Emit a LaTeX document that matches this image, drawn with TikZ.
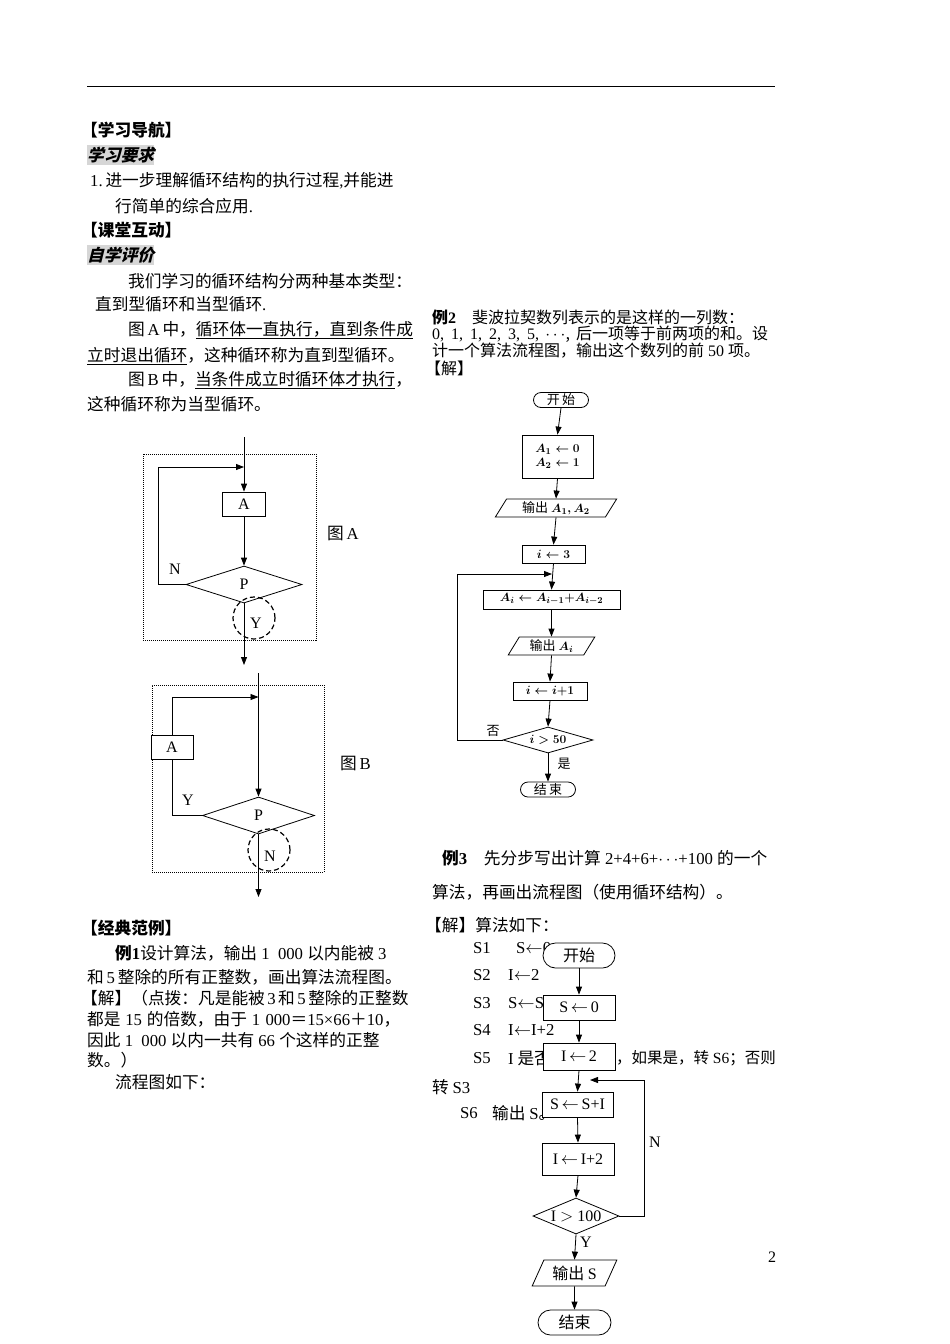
\documentclass[tikz,border=0pt]{standalone}
\usepackage{fontspec}
\setmainfont{Noto Sans CJK SC}
\newfontfamily\cjksl{Noto Sans CJK SC}[FakeSlant=0.25]
\newfontfamily\lat{Liberation Serif}
\usetikzlibrary{arrows.meta,shapes.geometric}
\newcommand\fsz[1]{\fontsize{#1}{#1}\selectfont}
\newcommand\jl[2]{\makebox[#1][s]{#2}}
\tikzset{
  txt/.style={anchor=west, inner sep=0pt, font=\fsz{16.7}},
  shd/.style={anchor=west, inner xsep=0pt, inner ysep=1.5pt, fill=black!16, font=\fsz{16.7}},
  fbox/.style={draw, line width=0.8pt, fill=white, inner sep=0pt, align=center},
  dia/.style={draw, diamond, aspect=3, line width=0.8pt, fill=white, inner sep=0pt},
  para/.style={draw, trapezium, trapezium left angle=60, trapezium right angle=120, trapezium stretches=true, line width=0.8pt, fill=white, inner sep=0pt},
  arr/.style={-{Triangle[length=8pt,width=6pt]}, line width=0.8pt},
  dcirc/.style={circle, draw, dash pattern=on 5pt off 3pt, line width=1.2pt, minimum size=42pt, inner sep=0pt},
  frame/.style={draw, dash pattern=on 1pt off 1pt, line width=1pt, inner sep=0pt},
  lab/.style={inner sep=0pt, font=\lat\fsz{16}},
  slab/.style={inner sep=0pt, font=\fsz{13}},
  mth/.style={font=\fsz{13}\boldmath}
}
\begin{document}
\begin{tikzpicture}[x=1pt,y=-1pt]
\fill[white] (0,0) rectangle (950,1344);
\useasboundingbox (0,0) rectangle (950,1344);
% header rule
\coordinate (r1) at (87,86);
\coordinate (r2) at (775,86);
\draw[line width=0.9pt] (r1) -- (r2);

% ---------- left column text ----------
\node[txt] (h1) at (81,130) {\bfseries 【学习导航】};
\node[shd] (h2) at (87,155) {\cjksl\bfseries 学习要求};
\node[txt] (l1) at (90,181) {{\lat 1.\,}进一步理解循环结构的执行过程{\lat ,}并能进};
\node[txt] (l2) at (115,206) {行简单的综合应用{\lat .}};
\node[txt] (h3) at (81,230) {\bfseries 【课堂互动】};
\node[shd] (h4) at (87,255) {\cjksl\bfseries 自学评价};
\node[txt] (p1) at (128,281) {我们学习的循环结构分两种基本类型：};
\node[txt] (p2) at (95,304) {直到型循环和当型循环{\lat .}};
\node[txt] (p3) at (128,330) {图{\lat\,A\,}中，\underline{循环体一直执行，直到条件成}};
\node[txt] (p4) at (87,356) {\underline{立时退出循环}，这种循环称为直到型循环。};
\node[txt] (p5) at (128,380) {图{\lat\,B\,}中，\underline{当条件成立时循环体才执行}，};
\node[txt] (p6) at (87,404) {这种循环称为当型循环。};

% ---------- Figure A ----------
\node[frame, minimum width=173pt, minimum height=186pt] (fa) at (229.5,547) {};
\coordinate (at) at (244,437);
\node[fbox, minimum width=43pt, minimum height=24pt, font=\lat\fsz{16}] (ba) at (244,504) {A};
\node[dia, minimum width=116pt, minimum height=37pt, font=\lat\fsz{16}] (pa) at (244,584.5) {P};
\draw[arr] (at) -- (ba.north);
\draw[arr] (ba.south) -- (pa.north);
\coordinate (la1) at (158,584.5);
\coordinate (la2) at (158,467);
\coordinate (la3) at (244,467);
\draw[arr] (pa.west) -- (la1) -- (la2) -- (la3);
\coordinate (ao) at (244,665);
\draw[arr] (pa.south) -- (ao);
\node[dcirc] (ya) at (254,618) {};
\node[lab] (yal) at (256,623) {Y};
\node[lab] (na) at (175,569) {N};
\node[txt] (figa) at (327,534) {图{\lat\,A}};

% ---------- Figure B ----------
\node[frame, minimum width=172pt, minimum height=187pt] (fb) at (238,778.5) {};
\coordinate (bt) at (258.5,673);
\node[dia, minimum width=112pt, minimum height=37pt, font=\lat\fsz{16}] (pb) at (258.5,815.5) {P};
\draw[arr] (bt) -- (pb.north);
\node[fbox, minimum width=42pt, minimum height=24pt, font=\lat\fsz{16}] (bb) at (172,747) {A};
\coordinate (lb1) at (172,697);
\coordinate (lb2) at (258.5,697);
\coordinate (lb3) at (172,815.5);
\draw[line width=0.8pt] (pb.west) -- (lb3) -- (bb.south);
\draw[arr] (bb.north) -- (lb1) -- (lb2);
\coordinate (bo) at (258.5,897);
\draw[arr] (pb.south) -- (bo);
\node[dcirc] (nb) at (269,850) {};
\node[lab] (nbl) at (270,856) {N};
\node[lab] (yb) at (188,800) {Y};
\node[txt] (figb) at (340,764) {图{\lat\,B}};

% ---------- Example 1 text ----------
\node[txt] (h5) at (81,928) {\bfseries 【经典范例】};
\node[txt] (e1) at (115,953) {{\bfseries 例{\lat 1}}设计算法，输出{\lat\ 1\ \ 000\ }以内能被{\lat\ 3}};
\node[txt] (e2) at (87,977) {和{\lat\,5\,}整除的所有正整数，画出算法流程图。};
\node[txt] (e3) at (81,998) {\jl{322pt}{【解】（点拨：凡是能被 {\lat 3} 和 {\lat 5} 整除的正整数}};
\node[txt] (e4) at (87,1019) {\jl{313pt}{都是 {\lat 15} 的倍数，由于 {\lat 1 000}＝{\lat 15×66}＋{\lat 10}，}};
\node[txt] (e5) at (87,1040) {因此{\lat\ 1\ \ 000\ }以内一共有{\lat\ 66\ }个这样的正整};
\node[txt] (e6) at (87,1060) {数。）};
\node[txt] (e7) at (115,1082) {流程图如下：};

% ---------- Example 2 text ----------
\node[txt, font=\fsz{16}] (x1) at (432,317) {\jl{336pt}{{\bfseries 例{\lat 2}}\quad 斐波拉契数列表示的是这样的一列数：}};
\node[txt, font=\fsz{16}] (x2) at (432,334) {\jl{336pt}{{\lat 0, 1, 1, 2, 3, 5,} $\cdots$, 后一项等于前两项的和。设}};
\node[txt, font=\fsz{16}] (x3) at (432,351) {\jl{328pt}{计一个算法流程图，输出这个数列的前 {\lat 50} 项。}};
\node[txt, font=\fsz{16}] (x4) at (425,368) {【解】};

% ---------- Example 2 flowchart ----------
\node[fbox, rounded corners=7.5pt, minimum width=55pt, minimum height=15pt, font=\fsz{13}] (s2) at (561,400) {开\,始};
\node[fbox, mth, minimum width=71pt, minimum height=43pt] (b2a) at (557.5,456.5) {$A_1\leftarrow 0$\\[1pt]$A_2\leftarrow 1$};
\node[para, mth, minimum width=122pt, minimum height=18pt] (o2a) at (556,508) {输出 $A_1,A_2$};
\node[fbox, mth, minimum width=63pt, minimum height=18pt] (b2b) at (553.5,554) {$i\leftarrow 3$};
\node[fbox, mth, minimum width=137pt, minimum height=19pt] (b2c) at (551.5,599.5) {$A_i\leftarrow A_{i-1}{+}A_{i-2}$};
\node[para, mth, minimum width=87pt, minimum height=18pt] (o2b) at (551.5,646) {输出 $A_i$};
\node[fbox, mth, minimum width=74pt, minimum height=18pt] (b2d) at (550,691) {$i\leftarrow i{+}1$};
\node[dia, mth, minimum width=90pt, minimum height=26pt] (d2) at (548,740) {$i>50$};
\node[fbox, rounded corners=7.5pt, minimum width=55pt, minimum height=15pt, font=\fsz{13}] (e2e) at (548,789.5) {结\,束};
\draw[arr] (s2.south) -- (b2a.north);
\draw[arr] (b2a.south) -- (o2a.north);
\draw[arr] (o2a.south) -- (b2b.north);
\draw[arr] (b2b.south) -- (b2c.north);
\draw[arr] (b2c.south) -- (o2b.north);
\draw[arr] (o2b.south) -- (b2d.north);
\draw[arr] (b2d.south) -- (d2.north);
\draw[arr] (d2.south) -- (e2e.north);
\coordinate (l2a) at (457,740);
\coordinate (l2b) at (457,574);
\coordinate (l2c) at (552,574);
\draw[arr] (d2.west) -- (l2a) -- (l2b) -- (l2c);
\node[slab] (no2) at (493,731) {否};
\node[slab] (yes2) at (564,764) {是};

% ---------- Example 3 text ----------
\node[txt] (y1) at (442,858) {{\bfseries 例{\lat 3}}\quad 先分步写出计算{\lat\ 2+4+6+}$\cdots${\lat +100 }的一个};
\node[txt] (y2) at (432,892) {算法，再画出流程图（使用循环结构）。};
\node[txt] (y3) at (425,925) {【解】算法如下：};
\node[txt] (st1a) at (473,948) {\lat S1};
\node[txt] (st1b) at (516,948) {\lat S$\leftarrow$0};
\node[txt] (st2a) at (473,975) {\lat S2};
\node[txt] (st2b) at (508,975) {\lat I$\leftarrow$2};
\node[txt] (st3a) at (473,1003) {\lat S3};
\node[txt] (st3b) at (508,1003) {\lat S$\leftarrow$S+I};
\node[txt] (st4a) at (473,1030) {\lat S4};
\node[txt] (st4b) at (508,1030) {\lat I$\leftarrow$I+2};
\node[txt] (st5a) at (473,1058) {\lat S5};
\node[txt] (st5b) at (508,1058) {{\lat I} 是否大于{\lat 100}};
\node[txt, anchor=east, font=\fsz{15.5}] (st5c) at (776,1058) {，如果是，转{\lat\ S6}；否则};
\node[txt] (st5d) at (432,1087) {转 {\lat S3}};
\node[txt] (st6a) at (460,1113) {\lat S6};
\node[txt] (st6b) at (492,1113) {输出 {\lat S}。};

% ---------- Example 3 flowchart ----------
\node[fbox, rounded corners=12.5pt, minimum width=72pt, minimum height=25pt, font=\fsz{16}] (s3) at (579,955.5) {开始};
\node[fbox, minimum width=72pt, minimum height=25pt, font=\lat\fsz{16}] (b3a) at (579,1007.5) {S\,$\leftarrow$\,0};
\node[fbox, minimum width=72pt, minimum height=27pt, font=\lat\fsz{16}] (b3b) at (579,1056.5) {I\,$\leftarrow$\,2};
\node[fbox, minimum width=71pt, minimum height=25pt, font=\lat\fsz{16}] (b3c) at (577.5,1104.5) {S\,$\leftarrow$\,S+I};
\node[fbox, minimum width=72pt, minimum height=32pt, font=\lat\fsz{16}] (b3d) at (578,1159) {I\,$\leftarrow$\,I+2};
\node[dia, minimum width=86pt, minimum height=36pt, font=\lat\fsz{16}] (d3) at (576,1216) {I $>$ 100};
\node[para, minimum width=85pt, minimum height=26pt, font=\fsz{16}] (o3) at (574.5,1273) {输出 {\lat S}};
\node[fbox, rounded corners=12.5pt, minimum width=73pt, minimum height=25pt, font=\fsz{16}] (e3e) at (574.5,1322.5) {结束};
\draw[arr] (s3.south) -- (b3a.north);
\draw[arr] (b3a.south) -- (b3b.north);
\draw[arr] (b3b.south) -- (b3c.north);
\draw[arr] (b3c.south) -- (b3d.north);
\draw[arr] (b3d.south) -- (d3.north);
\draw[arr] (d3.south) -- (o3.north);
\draw[arr] (o3.south) -- (e3e.north);
\coordinate (l3a) at (644,1216);
\coordinate (l3b) at (644,1080);
\coordinate (l3c) at (590,1080);
\draw[arr] (d3.east) -- (l3a) -- (l3b) -- (l3c);
\node[lab] (n3) at (655,1142) {N};
\node[lab] (y3l) at (586,1242) {Y};

% page number
\node[lab] (pg) at (772,1257) {2};
\end{tikzpicture}
\end{document}
